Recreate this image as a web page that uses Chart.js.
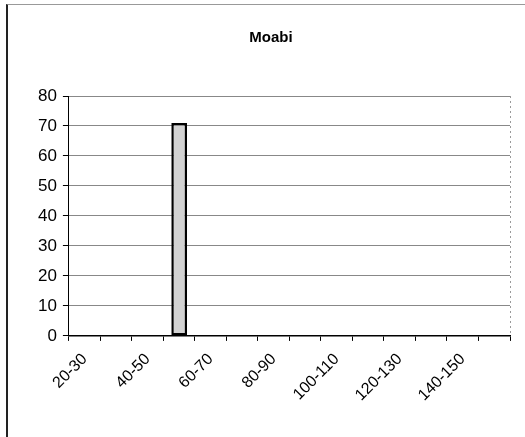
<!DOCTYPE html>
<html>
<head>
<meta charset="utf-8">
<script src="https://cdn.jsdelivr.net/npm/chart.js@4"></script>
<style>
  html, body { margin: 0; padding: 0; background: #fff; }
  #wrap { position: relative; width: 525px; height: 437px; }
  #frame { position: absolute; left: 6px; top: 4px; right: 0; bottom: 0;
           border-left: 2px solid #222; border-top: 1px solid #999; }
  canvas { position: absolute; left: 0; top: 0; }
</style>
</head>
<body>
<div id="wrap">
  <div id="frame"></div>
  <canvas id="chart" width="525" height="437"></canvas>
</div>
<script>
// diameter classes (cm) and number of trees
const classes = ['20-30','30-40','40-50','50-60','60-70','70-80','80-90','90-100',
                 '100-110','110-120','120-130','130-140','140-150','150-160'];
const counts = [0, 0, 0, 71, 0, 0, 0, 0, 0, 0, 0, 0, 0, 0];
const yTicks = [0, 10, 20, 30, 40, 50, 60, 70, 80];

// dotted border on the right side of the plot area
const plotEdge = {
  id: 'plotEdge',
  afterDraw(chart) {
    const a = chart.chartArea, ctx = chart.ctx;
    ctx.save();
    ctx.strokeStyle = '#999';
    ctx.lineWidth = 1;
    ctx.setLineDash([2, 3]);
    ctx.beginPath();
    ctx.moveTo(a.right + 0.5, a.top);
    ctx.lineTo(a.right + 0.5, a.bottom);
    ctx.stroke();
    ctx.restore();
  }
};

new Chart(document.getElementById('chart'), {
  type: 'bar',
  data: {
    labels: classes,
    datasets: [{
      data: counts,
      backgroundColor: '#d2d2d2',
      borderColor: '#000',
      borderWidth: 2.5,
      borderSkipped: false,
      barPercentage: 0.5,
      categoryPercentage: 1
    }]
  },
  options: {
    responsive: false,
    animation: false,
    layout: { padding: { left: 32, right: 15, top: 27, bottom: 23 } },
    plugins: {
      legend: { display: false },
      tooltip: { enabled: false },
      title: {
        display: true,
        text: 'Moabi',
        color: '#000',
        font: { family: 'Liberation Sans, Arial', size: 15, weight: 'bold' },
        padding: { top: 2, bottom: 49 }
      }
    },
    scales: {
      x: {
        grid: { offset: true, drawOnChartArea: false, drawTicks: true, tickLength: 5, color: '#000' },
        border: { display: true, color: '#000', width: 1.5 },
        ticks: {
          autoSkip: false,
          minRotation: 45,
          maxRotation: 45,
          color: '#000',
          padding: 9,
          font: { family: 'Liberation Sans, Arial', size: 16 },
          callback: (v, i) => (i % 2 === 0 && i < 13) ? classes[i] : ''
        }
      },
      y: {
        min: 0,
        max: 80,
        afterBuildTicks: (s) => { s.ticks = yTicks.map(v => ({ value: v })); },
        grid: { color: '#888', lineWidth: 1, tickLength: 6, tickColor: '#000' },
        border: { display: true, color: '#000', width: 1 },
        ticks: {
          color: '#000',
          padding: 6,
          font: { family: 'Liberation Sans, Arial', size: 17 }
        }
      }
    }
  },
  plugins: [plotEdge]
});
</script>
</body>
</html>
